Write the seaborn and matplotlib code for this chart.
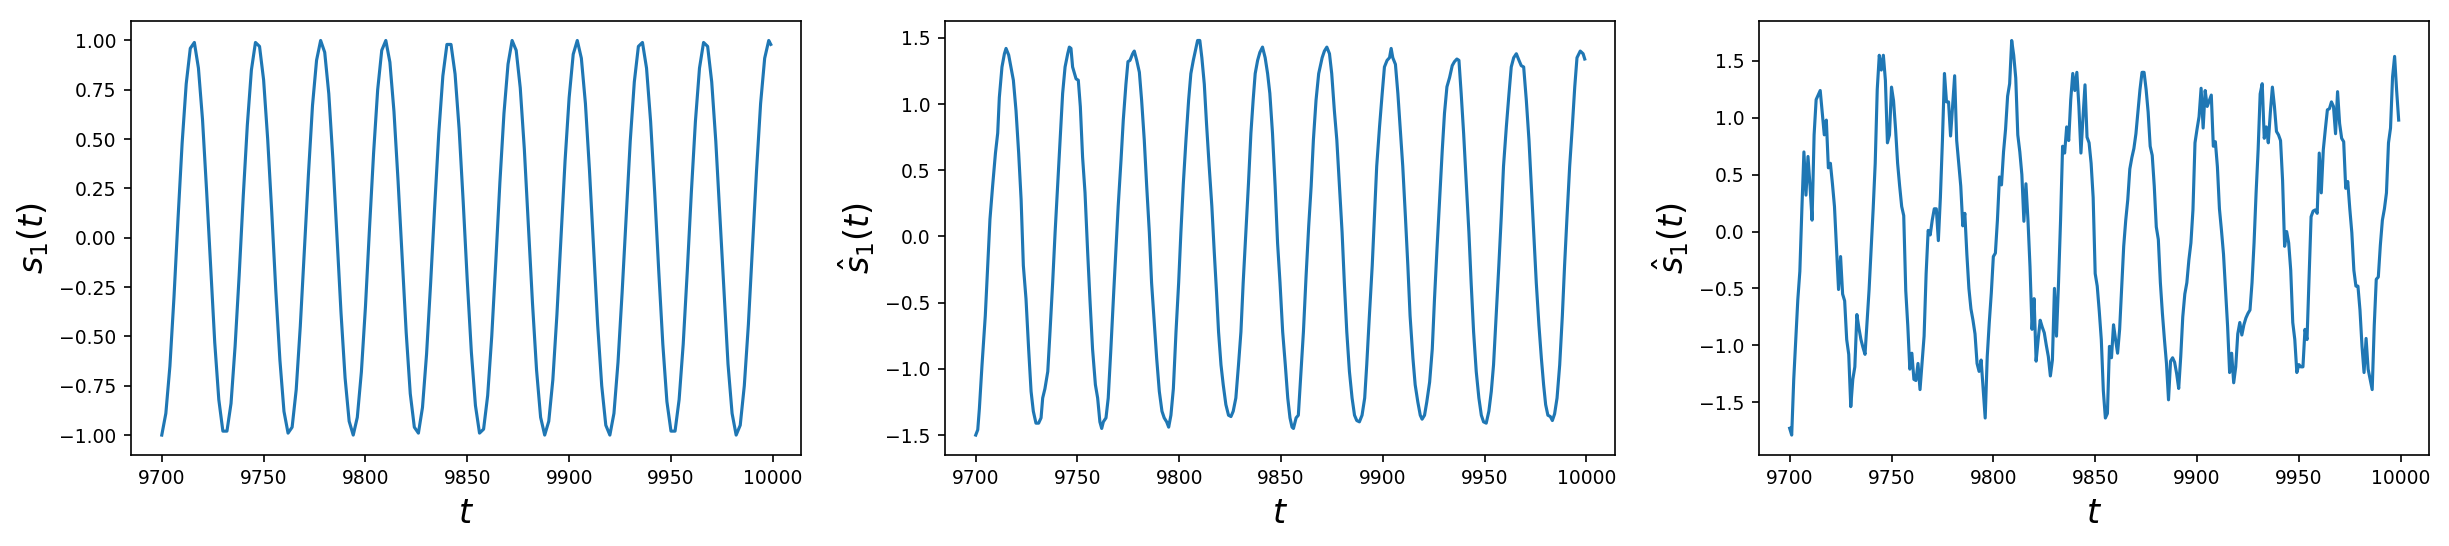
import matplotlib
matplotlib.use('Agg')
import matplotlib.pyplot as plt
import seaborn as sns

# time points
t_true = list(range(9700, 10000, 2)) + [9999]

# true source s_1(t)
s_true = [
    -1.00, -0.89, -0.65, -0.30, 0.10, 0.48, 0.78, 0.96, 0.99, 0.86,
    0.60, 0.24, -0.15, -0.53, -0.82, -0.98, -0.98, -0.84, -0.55, -0.19,
    0.21, 0.57, 0.85, 0.99, 0.97, 0.80, 0.50, 0.13, -0.27, -0.62,
    -0.88, -0.99, -0.96, -0.77, -0.45, -0.07, 0.32, 0.67, 0.90, 1.00,
    0.94, 0.73, 0.40, 0.01, -0.38, -0.71, -0.93, -1.00, -0.91, -0.68,
    -0.35, 0.05, 0.43, 0.75, 0.95, 1.00, 0.89, 0.64, 0.29, -0.10,
    -0.48, -0.79, -0.96, -0.99, -0.86, -0.59, -0.23, 0.16, 0.53, 0.82,
    0.98, 0.98, 0.83, 0.55, 0.18, -0.22, -0.58, -0.85, -0.99, -0.97,
    -0.80, -0.50, -0.12, 0.28, 0.63, 0.88, 1.00, 0.95, 0.76, 0.45,
    0.06, -0.33, -0.67, -0.91, -1.00, -0.93, -0.72, -0.39, 0.00, 0.39,
    0.71, 0.93, 1.00, 0.91, 0.68, 0.34, -0.05, -0.44, -0.75, -0.95,
    -1.00, -0.89, -0.63, -0.28, 0.11, 0.49, 0.79, 0.97, 0.99, 0.86,
    0.59, 0.23, -0.17, -0.54, -0.83, -0.98, -0.98, -0.82, -0.54, -0.17,
    0.23, 0.59, 0.86, 0.99, 0.97, 0.79, 0.49, 0.11, -0.28, -0.64,
    -0.89, -1.00, -0.95, -0.75, -0.44, -0.05, 0.34, 0.68, 0.91, 1.00,
    0.98,
]

# estimate, smooth model
t_est = [
    9700, 9701, 9701.8, 9703.1, 9704.7, 9705.9, 9707, 9708.3, 9709.7, 9710.8,
    9711.6, 9712.9, 9714.1, 9714.9, 9716.2, 9717.3, 9718.5, 9719.8, 9721.1, 9722.3,
    9723.4, 9724.7, 9726, 9727.2, 9728.3, 9729.6, 9730.9, 9732.1, 9732.9, 9734,
    9735.4, 9736.5, 9737.8, 9739, 9740.3, 9741.6, 9742.7, 9743.9, 9745.2, 9746,
    9746.8, 9747.6, 9749.3, 9750.4, 9751.4, 9752.5, 9753.7, 9755, 9756.1, 9757.4,
    9758.8, 9759.9, 9761, 9761.9, 9762.7, 9764, 9765.1, 9766.4, 9767.8, 9768.9,
    9770, 9771.4, 9772.5, 9773.8, 9774.8, 9775.8, 9777.1, 9777.9, 9779.1, 9780.4,
    9781.5, 9782.8, 9784, 9785.3, 9786.4, 9787.7, 9788.9, 9790.2, 9791.5, 9792.6,
    9793.8, 9794.8, 9795.9, 9797.1, 9798.4, 9799.7, 9800.8, 9802, 9803.3, 9804.6,
    9805.7, 9806.9, 9807.9, 9809, 9810.1, 9811.1, 9812.3, 9813.4, 9814.7, 9816,
    9817.2, 9818.3, 9819.3, 9820.5, 9821.6, 9822.9, 9824.2, 9825.4, 9826.5, 9827.8,
    9829.1, 9830.3, 9831.4, 9832.7, 9834, 9835.2, 9836.3, 9837.3, 9838.5, 9839.6,
    9840.9, 9842.2, 9843.4, 9844.5, 9845.8, 9847.1, 9848.3, 9849.5, 9850.8, 9852.1,
    9853.3, 9854.4, 9855.4, 9856.1, 9857.4, 9858.5, 9859.8, 9861, 9862.3, 9863.6,
    9864.8, 9865.9, 9867.2, 9868.5, 9870.2, 9871.3, 9872.5, 9873.8, 9874.9, 9876.2,
    9877.4, 9878.7, 9880, 9881.1, 9882.3, 9883.6, 9884.9, 9886.1, 9887.2, 9888.5,
    9889.8, 9891.1, 9892.1, 9893.4, 9894.8, 9895.9, 9897, 9898.4, 9899.7, 9900.8,
    9902.1, 9903.3, 9904.1, 9904.9, 9906.2, 9907.4, 9908.5, 9909.8, 9911.1, 9912.3,
    9913.4, 9914.8, 9915.9, 9917.2, 9918.4, 9919.3, 9920.5, 9921.6, 9923, 9924.3,
    9925.4, 9926.6, 9927.9, 9929.2, 9930.3, 9931.5, 9932.8, 9934.1, 9935.2, 9936.4,
    9937.4, 9938.5, 9939.7, 9941, 9942.3, 9943.4, 9944.6, 9945.9, 9947.2, 9948.4,
    9949.5, 9950.8, 9952.1, 9953.3, 9954.4, 9955.7, 9957, 9958.2, 9959.3, 9960.7,
    9962, 9963.1, 9964.3, 9965.6, 9966.9, 9968, 9969.2, 9970.5, 9971.8, 9972.9,
    9974.1, 9975.4, 9976.7, 9977.9, 9979, 9980, 9981.1, 9982.3, 9983.3, 9984.4,
    9985.6, 9986.9, 9988.2, 9989.3, 9990.5, 9991.8, 9993.1, 9994.3, 9995.4, 9997,
    9998.4, 9999.2,
]
s_est = [
    -1.50, -1.46, -1.30, -0.97, -0.60, -0.22, 0.13, 0.38, 0.63, 0.78,
    1.05, 1.28, 1.38, 1.42, 1.37, 1.28, 1.18, 0.95, 0.63, 0.28,
    -0.22, -0.47, -0.85, -1.17, -1.32, -1.41, -1.41, -1.37, -1.22, -1.15,
    -1.02, -0.72, -0.35, 0.03, 0.40, 0.78, 1.08, 1.28, 1.38, 1.43,
    1.42, 1.28, 1.19, 1.18, 0.98, 0.60, 0.33, -0.12, -0.47, -0.85,
    -1.12, -1.22, -1.40, -1.45, -1.40, -1.37, -1.22, -0.85, -0.42, -0.10,
    0.23, 0.58, 0.88, 1.15, 1.32, 1.33, 1.38, 1.40, 1.33, 1.24,
    1.03, 0.73, 0.38, 0.03, -0.35, -0.65, -0.92, -1.17, -1.32, -1.37,
    -1.40, -1.44, -1.35, -1.15, -0.72, -0.35, 0.03, 0.40, 0.73, 1.03,
    1.23, 1.33, 1.40, 1.48, 1.48, 1.35, 1.15, 0.85, 0.53, 0.23,
    -0.12, -0.42, -0.72, -0.97, -1.12, -1.27, -1.35, -1.36, -1.32, -1.22,
    -0.97, -0.72, -0.35, 0.03, 0.40, 0.78, 1.03, 1.23, 1.33, 1.39,
    1.43, 1.35, 1.23, 1.08, 0.78, 0.38, -0.05, -0.35, -0.72, -0.97,
    -1.22, -1.37, -1.44, -1.45, -1.37, -1.35, -1.02, -0.72, -0.30, 0.08,
    0.38, 0.73, 1.03, 1.23, 1.35, 1.40, 1.43, 1.38, 1.23, 0.95,
    0.73, 0.38, 0.03, -0.35, -0.72, -1.02, -1.22, -1.35, -1.39, -1.40,
    -1.35, -1.22, -0.97, -0.60, -0.22, 0.15, 0.53, 0.83, 1.08, 1.28,
    1.33, 1.35, 1.42, 1.35, 1.30, 1.08, 0.83, 0.53, 0.15, -0.22,
    -0.60, -0.92, -1.12, -1.25, -1.35, -1.38, -1.35, -1.25, -1.10, -0.85,
    -0.47, -0.10, 0.28, 0.65, 0.93, 1.13, 1.20, 1.29, 1.32, 1.34,
    1.33, 1.08, 0.78, 0.40, 0.03, -0.35, -0.72, -1.02, -1.22, -1.35,
    -1.40, -1.41, -1.32, -1.17, -0.97, -0.60, -0.22, 0.15, 0.53, 0.83,
    1.08, 1.28, 1.35, 1.38, 1.33, 1.29, 1.28, 1.03, 0.73, 0.40,
    0.03, -0.35, -0.67, -0.92, -1.12, -1.27, -1.35, -1.36, -1.39, -1.34,
    -1.22, -0.97, -0.60, -0.22, 0.15, 0.53, 0.83, 1.13, 1.35, 1.40,
    1.38, 1.34,
]

# estimate, noisy model (one value per time step)
t_noisy = list(range(9700, 10000))
s_noisy = [
    -1.73, -1.79, -1.30, -0.95, -0.60, -0.35, 0.20, 0.70, 0.32, 0.66,
    0.40, 0.10, 0.85, 1.16, 1.20, 1.24, 1.05, 0.85, 0.98, 0.56,
    0.60, 0.42, 0.22, -0.15, -0.51, -0.22, -0.55, -0.61, -0.95, -1.08,
    -1.54, -1.30, -1.19, -0.73, -0.85, -0.95, -1.02, -1.08, -0.80, -0.51,
    -0.15, 0.20, 0.60, 1.25, 1.55, 1.42, 1.55, 1.33, 0.78, 0.85,
    1.27, 1.15, 0.90, 0.60, 0.40, 0.22, 0.14, -0.52, -0.83, -1.21,
    -1.07, -1.30, -1.31, -1.16, -1.39, -1.15, -0.92, -0.37, 0.01, -0.03,
    0.10, 0.20, 0.20, -0.08, 0.30, 0.80, 1.39, 1.14, 1.14, 0.84,
    1.10, 1.37, 0.80, 0.60, 0.40, 0.05, 0.16, -0.20, -0.50, -0.68,
    -0.78, -0.90, -1.16, -1.23, -1.13, -1.38, -1.64, -1.10, -0.80, -0.54,
    -0.22, -0.19, 0.10, 0.48, 0.41, 0.70, 0.90, 1.19, 1.30, 1.68,
    1.55, 1.35, 0.85, 0.70, 0.50, 0.09, 0.42, 0.10, -0.31, -0.86,
    -0.59, -1.14, -0.95, -0.78, -0.84, -0.89, -1.00, -1.10, -1.27, -1.13,
    -0.50, -0.92, -0.45, 0.10, 0.75, 0.69, 0.92, 0.80, 1.16, 1.39,
    1.24, 1.40, 1.10, 0.69, 1.00, 1.29, 0.83, 0.78, 0.60, 0.30,
    -0.37, -0.48, -0.70, -0.95, -1.40, -1.64, -1.60, -1.01, -1.11, -0.82,
    -0.95, -1.07, -0.86, -0.50, -0.13, 0.10, 0.28, 0.55, 0.65, 0.73,
    0.86, 1.05, 1.25, 1.40, 1.40, 1.25, 1.05, 0.75, 0.67, 0.40,
    0.04, -0.07, -0.45, -0.72, -0.95, -1.16, -1.48, -1.14, -1.11, -1.15,
    -1.25, -1.38, -1.10, -0.75, -0.55, -0.45, -0.25, -0.10, 0.19, 0.78,
    0.90, 1.01, 1.26, 0.91, 1.24, 1.10, 1.15, 1.20, 0.75, 0.79,
    0.57, 0.20, 0.01, -0.20, -0.51, -0.83, -1.24, -1.07, -1.33, -1.19,
    -0.90, -0.80, -0.91, -0.82, -0.76, -0.72, -0.69, -0.45, -0.10, 0.34,
    0.72, 1.21, 1.30, 0.82, 0.92, 0.78, 1.05, 1.27, 1.10, 0.88,
    0.85, 0.80, 0.45, -0.13, 0.00, -0.10, -0.34, -0.80, -0.95, -1.24,
    -1.17, -1.19, -1.19, -0.86, -0.95, -0.40, 0.13, 0.18, 0.19, 0.16,
    0.69, 0.34, 0.72, 0.90, 1.07, 1.08, 1.14, 1.10, 0.86, 1.23,
    0.95, 0.82, 0.79, 0.38, 0.44, 0.20, -0.01, -0.34, -0.48, -0.48,
    -0.69, -1.01, -1.24, -0.94, -1.21, -1.30, -1.39, -0.83, -0.42, -0.40,
    -0.12, 0.10, 0.20, 0.34, 0.78, 0.91, 1.36, 1.54, 1.24, 0.98,
]

panels = [
    (t_true, s_true, r'$s_1(t)$'),
    (t_est, s_est, r'$\hat{s}_1(t)$'),
    (t_noisy, s_noisy, r'$\hat{s}_1(t)$'),
]

fig, axes = plt.subplots(1, 3, figsize=(16.333, 3.64), dpi=150)
fig.subplots_adjust(left=0.0536, right=0.9915, bottom=0.167, top=0.962, wspace=0.215)

for ax, (t, s, ylab) in zip(axes, panels):
    sns.lineplot(x=t, y=s, ax=ax, color='#1f77b4', linewidth=1.5,
                 estimator=None, sort=False)
    ax.set_xlabel(r'$t$', fontsize=16)
    ax.set_ylabel(ylab, fontsize=16)
    ax.tick_params(labelsize=9)
    ax.set_xticks([9700, 9750, 9800, 9850, 9900, 9950, 10000])

axes[0].set_yticks([-1.0, -0.75, -0.5, -0.25, 0.0, 0.25, 0.5, 0.75, 1.0])

fig.savefig('out.png', dpi=150)
